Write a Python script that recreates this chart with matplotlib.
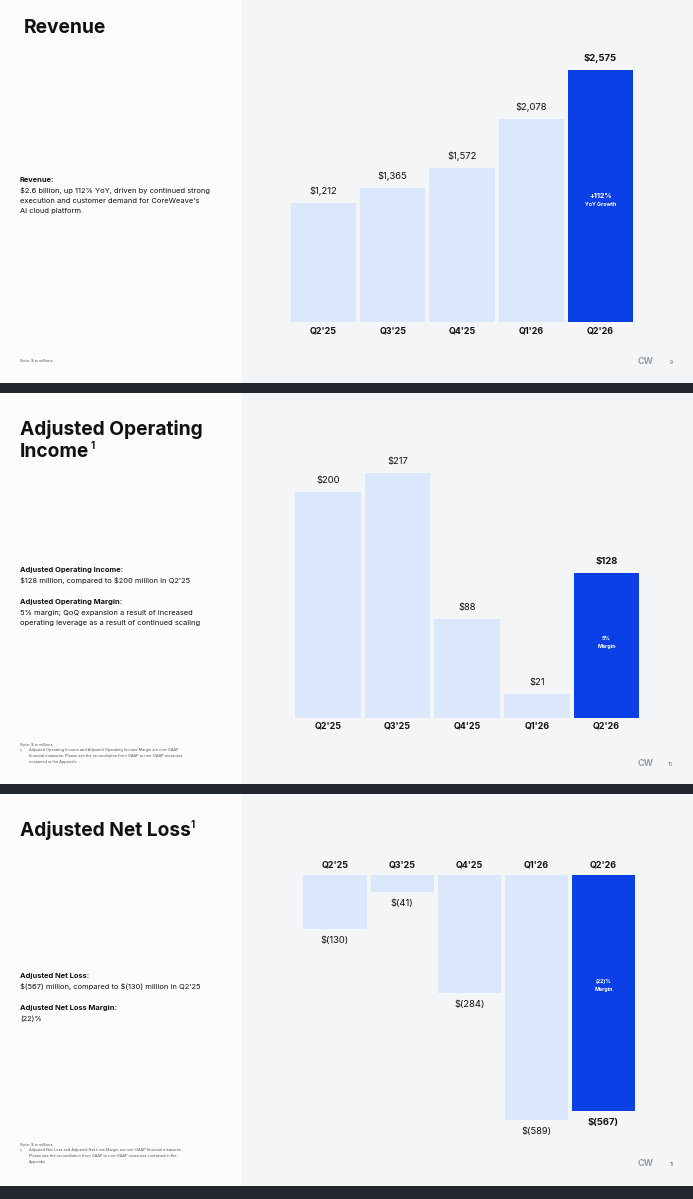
import matplotlib
matplotlib.use("Agg")
import matplotlib.pyplot as plt
from matplotlib.patches import Rectangle

plt.rcParams['font.family'] = ['Inter', 'DejaVu Sans']
plt.rcParams['text.parse_math'] = False

W, H = 693, 1199

# ---------------- data ----------------
quarters = ["Q2'25", "Q3'25", "Q4'25", "Q1'26", "Q2'26"]
revenue = [1212, 1365, 1572, 2078, 2575]
revenue_labels = ["$1,212", "$1,365", "$1,572", "$2,078", "$2,575"]
adj_op_income = [200, 217, 88, 21, 128]
adj_op_labels = ["$200", "$217", "$88", "$21", "$128"]
adj_net_loss = [-130, -41, -284, -589, -567]
adj_net_labels = ["$(130)", "$(41)", "$(284)", "$(589)", "$(567)"]

LIGHT = "#dbe8fc"
BLUE = "#0a40e6"
GRAY_BG = "#f4f5f7"
WHITE_BG = "#fcfcfd"
DARK = "#23272e"
TXT = "#111111"

fig = plt.figure(figsize=(W / 100, H / 100), dpi=100)
fig.patch.set_facecolor(WHITE_BG)


def fx(x):
    return x / W


def fy(y):
    return 1 - y / H


def rect(x, y, w, h, color, z=-2):
    fig.patches.append(Rectangle((fx(x), fy(y + h)), w / W, h / H,
                                 transform=fig.transFigure, color=color,
                                 zorder=z, lw=0))


def txt(x, y, s, size, weight="normal", ha="left", va="center", color=TXT, **kw):
    fig.text(fx(x), fy(y), s, fontsize=size, fontweight=weight, ha=ha, va=va,
             color=color, zorder=6, **kw)


def px_axes(left, top, width, height):
    ax = fig.add_axes([fx(left), fy(top + height), width / W, height / H])
    ax.set_facecolor("none")
    ax.axis("off")
    ax.set_zorder(5)
    return ax


# ---------------- backgrounds ----------------
slides = [(0, 383), (393, 784), (794, 1186)]
for (y0, y1) in slides:
    rect(0, y0, 241, y1 - y0, WHITE_BG)
    rect(241, y0, W - 241, y1 - y0, GRAY_BG)
rect(0, 383, W, 10, DARK, -1)
rect(0, 784, W, 10, DARK, -1)
rect(0, 1186, W, 13, DARK, -1)

NOTE = "#555555"
TS = 13.8
VS = 6.8
CS = 6.4
# ---------------- slide 1: Revenue ----------------
txt(24, 28, "Revenue", TS, "bold")
txt(20, 180, "Revenue:", 5.4, "bold")
txt(20, 190.5, "$2.6 billion, up 112% YoY, driven by continued strong", 5.4)
txt(20, 201, "execution and customer demand for CoreWeave's", 5.4)
txt(20, 211.5, "AI cloud platform", 5.4)
txt(20, 360, "Note: $ in millions", 2.8, color=NOTE)
txt(646, 361, "CW", 6.5, "bold", ha="center", color="#9aa0a8")
txt(671, 362, "9", 3.5, ha="center", color="#666666")

pitch1 = 69.25
ax1 = px_axes(323.5 - 0.5 * pitch1, 30, 5 * pitch1, 292)
ax1.set_xlim(-0.5, 4.5)
ax1.set_ylim(0, 2575 * 292 / 252)
cols = [LIGHT] * 4 + [BLUE]
ax1.bar(range(5), revenue, width=0.94, color=cols)
for i, (v, lab) in enumerate(zip(revenue, revenue_labels)):
    ax1.annotate(lab, (i, v), xytext=(0, 7), textcoords="offset pixels",
                 ha="center", va="bottom", fontsize=VS,
                 fontweight="bold" if i == 4 else "normal", color=TXT)
    ax1.annotate(quarters[i], (i, 0), xytext=(0, -9), textcoords="offset pixels",
                 ha="center", va="center", fontsize=CS, fontweight="bold", color=TXT)
ax1.annotate("+112%", (4, 0), xytext=(0, 322 - 196), textcoords="offset pixels",
             ha="center", va="center", fontsize=5.2, fontweight="bold", color="white")
ax1.annotate("YoY Growth", (4, 0), xytext=(0, 322 - 204), textcoords="offset pixels",
             ha="center", va="center", fontsize=3.8, fontweight="bold", color="white")

# ---------------- slide 2: Adjusted Operating Income ----------------
txt(20, 429, "Adjusted Operating", TS, "bold")
txt(20, 452, "Income", TS, "bold")
txt(90.5, 446, "1", 7, "bold")
txt(20, 570, "Adjusted Operating Income:", 5.4, "bold")
txt(20, 580.5, "$128 million, compared to $200 million in Q2'25", 5.4)
txt(20, 602, "Adjusted Operating Margin:", 5.4, "bold")
txt(20, 612.5, "5% margin; QoQ expansion a result of increased", 5.4)
txt(20, 623, "operating leverage as a result of continued scaling", 5.4)
txt(20, 745, "Note: $ in millions", 2.8, color=NOTE)
txt(20, 750.5, "1.", 2.8, color=NOTE)
txt(29, 750.5, "Adjusted Operating Income and Adjusted Operating Income Margin are non-GAAP", 2.8, color=NOTE)
txt(29, 756, "financial measures. Please see the reconciliation from GAAP to non-GAAP measures", 2.8, color=NOTE)
txt(29, 761.5, "contained in the Appendix", 2.8, color=NOTE)
txt(646, 763, "CW", 6.5, "bold", ha="center", color="#9aa0a8")
txt(670, 764, "10", 3.5, ha="center", color="#666666")

pitch2 = 69.6
ax2 = px_axes(328 - 0.5 * pitch2, 440, 5 * pitch2, 278)
ax2.set_xlim(-0.5, 4.5)
ax2.set_ylim(0, 217 * 278 / 245)
ax2.bar(range(5), adj_op_income, width=0.94, color=cols)
for i, (v, lab) in enumerate(zip(adj_op_income, adj_op_labels)):
    ax2.annotate(lab, (i, v), xytext=(0, 7), textcoords="offset pixels",
                 ha="center", va="bottom", fontsize=VS,
                 fontweight="bold" if i == 4 else "normal", color=TXT)
    ax2.annotate(quarters[i], (i, 0), xytext=(0, -8), textcoords="offset pixels",
                 ha="center", va="center", fontsize=CS, fontweight="bold", color=TXT)
ax2.annotate("5%", (4, 0), xytext=(0, 718 - 639), textcoords="offset pixels",
             ha="center", va="center", fontsize=3.8, fontweight="bold", color="white")
ax2.annotate("Margin", (4, 0), xytext=(0, 718 - 646.5), textcoords="offset pixels",
             ha="center", va="center", fontsize=3.8, fontweight="bold", color="white")

# ---------------- slide 3: Adjusted Net Loss ----------------
txt(20, 831, "Adjusted Net Loss", TS, "bold")
txt(191, 825, "1", 7, "bold")
txt(20, 976, "Adjusted Net Loss:", 5.4, "bold")
txt(20, 986.5, "$(567) million, compared to $(130) million in Q2'25", 5.4)
txt(20, 1008, "Adjusted Net Loss Margin:", 5.4, "bold")
txt(20, 1018.5, "(22)%", 5.4)
txt(20, 1145, "Note: $ in millions", 2.8, color=NOTE)
txt(20, 1150.5, "1.", 2.8, color=NOTE)
txt(29, 1150.5, "Adjusted Net Loss and Adjusted Net Loss Margin are non-GAAP financial measures.", 2.8, color=NOTE)
txt(29, 1156, "Please see the reconciliation from GAAP to non-GAAP measures contained in the", 2.8, color=NOTE)
txt(29, 1161.5, "Appendix", 2.8, color=NOTE)
txt(646, 1163, "CW", 6.5, "bold", ha="center", color="#9aa0a8")
txt(672, 1164, "11", 3.5, ha="center", color="#666666")

pitch3 = 67.1
ax3 = px_axes(335 - 0.5 * pitch3, 875, 5 * pitch3, 280)
ax3.set_xlim(-0.5, 4.5)
ax3.set_ylim(-280 / (236 / 567), 0)
ax3.bar(range(5), adj_net_loss, width=0.94, color=cols)
for i, (v, lab) in enumerate(zip(adj_net_loss, adj_net_labels)):
    ax3.annotate(lab, (i, v), xytext=(0, -7), textcoords="offset pixels",
                 ha="center", va="top", fontsize=VS,
                 fontweight="bold" if i == 4 else "normal", color=TXT)
    ax3.annotate(quarters[i], (i, 0), xytext=(0, 10), textcoords="offset pixels",
                 ha="center", va="center", fontsize=CS, fontweight="bold", color=TXT)
ax3.annotate("(22)%", (4, 0), xytext=(0, 875 - 982), textcoords="offset pixels",
             ha="center", va="center", fontsize=3.8, fontweight="bold", color="white")
ax3.annotate("Margin", (4, 0), xytext=(0, 875 - 989), textcoords="offset pixels",
             ha="center", va="center", fontsize=3.8, fontweight="bold", color="white")

fig.savefig("out.png", dpi=100, facecolor=fig.get_facecolor())
